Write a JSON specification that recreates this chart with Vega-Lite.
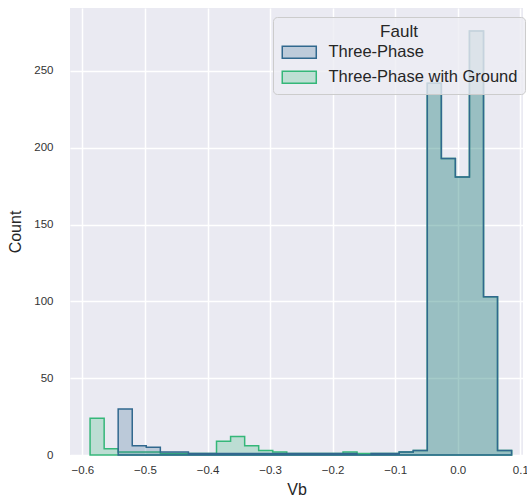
{
  "$schema": "https://vega.github.io/schema/vega-lite/v6.json",
  "width": 453,
  "height": 447,
  "autosize": {"type": "none"},
  "padding": {"left": 70, "top": 8, "right": 4, "bottom": 48},
  "background": "white",
  "config": {
    "font": "Liberation Sans",
    "view": {"fill": "#eaeaf2", "stroke": null},
    "axis": {
      "domain": false,
      "ticks": false,
      "grid": true,
      "gridColor": "#ffffff",
      "gridWidth": 1.5,
      "labelColor": "#333333",
      "labelFontSize": 11.5,
      "titleColor": "#262626",
      "titleFontSize": 16,
      "titleFontWeight": "normal"
    },
    "legend": {
      "orient": "none",
      "legendX": 203,
      "legendY": 9,
      "padding": 7,
      "cornerRadius": 4,
      "titleAnchor": "middle",
      "titleFontSize": 17,
      "titleFontWeight": "normal",
      "titleColor": "#262626",
      "titlePadding": 3,
      "labelFontSize": 16.5,
      "labelColor": "#262626",
      "labelOffset": 32,
      "labelLimit": 0,
      "rowPadding": 6,
      "symbolType": "M-1,-1H4.67V1H-1Z",
      "symbolSize": 144,
      "symbolStrokeWidth": 1.5
    }
  },
  "datasets": {
    "hist": [
      {"fault": "Three-Phase with Ground", "vb": -0.5877, "count": 24},
      {"fault": "Three-Phase with Ground", "vb": -0.5652, "count": 4},
      {"fault": "Three-Phase with Ground", "vb": -0.5428, "count": 2},
      {"fault": "Three-Phase with Ground", "vb": -0.5203, "count": 2},
      {"fault": "Three-Phase with Ground", "vb": -0.4979, "count": 2},
      {"fault": "Three-Phase with Ground", "vb": -0.4754, "count": 1},
      {"fault": "Three-Phase with Ground", "vb": -0.4529, "count": 1},
      {"fault": "Three-Phase with Ground", "vb": -0.4305, "count": 1},
      {"fault": "Three-Phase with Ground", "vb": -0.4080, "count": 1},
      {"fault": "Three-Phase with Ground", "vb": -0.3856, "count": 9},
      {"fault": "Three-Phase with Ground", "vb": -0.3631, "count": 12},
      {"fault": "Three-Phase with Ground", "vb": -0.3406, "count": 6},
      {"fault": "Three-Phase with Ground", "vb": -0.3182, "count": 3},
      {"fault": "Three-Phase with Ground", "vb": -0.2957, "count": 2},
      {"fault": "Three-Phase with Ground", "vb": -0.2733, "count": 1},
      {"fault": "Three-Phase with Ground", "vb": -0.2508, "count": 1},
      {"fault": "Three-Phase with Ground", "vb": -0.2283, "count": 1},
      {"fault": "Three-Phase with Ground", "vb": -0.2059, "count": 1},
      {"fault": "Three-Phase with Ground", "vb": -0.1834, "count": 2},
      {"fault": "Three-Phase with Ground", "vb": -0.1610, "count": 1},
      {"fault": "Three-Phase with Ground", "vb": -0.1385, "count": 1},
      {"fault": "Three-Phase with Ground", "vb": -0.1161, "count": 1},
      {"fault": "Three-Phase with Ground", "vb": -0.0936, "count": 2},
      {"fault": "Three-Phase with Ground", "vb": -0.0711, "count": 3},
      {"fault": "Three-Phase with Ground", "vb": -0.0487, "count": 242},
      {"fault": "Three-Phase with Ground", "vb": -0.0262, "count": 193},
      {"fault": "Three-Phase with Ground", "vb": -0.0038, "count": 181},
      {"fault": "Three-Phase with Ground", "vb": 0.0187, "count": 276},
      {"fault": "Three-Phase with Ground", "vb": 0.0412, "count": 103},
      {"fault": "Three-Phase with Ground", "vb": 0.0636, "count": 3},
      {"fault": "Three-Phase with Ground", "vb": 0.0861, "count": 3},
      {"fault": "Three-Phase", "vb": -0.5428, "count": 30},
      {"fault": "Three-Phase", "vb": -0.5203, "count": 6},
      {"fault": "Three-Phase", "vb": -0.4979, "count": 5},
      {"fault": "Three-Phase", "vb": -0.4754, "count": 2},
      {"fault": "Three-Phase", "vb": -0.4529, "count": 2},
      {"fault": "Three-Phase", "vb": -0.4305, "count": 1},
      {"fault": "Three-Phase", "vb": -0.4080, "count": 1},
      {"fault": "Three-Phase", "vb": -0.3856, "count": 1},
      {"fault": "Three-Phase", "vb": -0.3631, "count": 1},
      {"fault": "Three-Phase", "vb": -0.3406, "count": 1},
      {"fault": "Three-Phase", "vb": -0.3182, "count": 1},
      {"fault": "Three-Phase", "vb": -0.2957, "count": 1},
      {"fault": "Three-Phase", "vb": -0.2733, "count": 1},
      {"fault": "Three-Phase", "vb": -0.2508, "count": 1},
      {"fault": "Three-Phase", "vb": -0.2283, "count": 1},
      {"fault": "Three-Phase", "vb": -0.2059, "count": 1},
      {"fault": "Three-Phase", "vb": -0.1834, "count": 1},
      {"fault": "Three-Phase", "vb": -0.1610, "count": 0},
      {"fault": "Three-Phase", "vb": -0.1385, "count": 1},
      {"fault": "Three-Phase", "vb": -0.1161, "count": 1},
      {"fault": "Three-Phase", "vb": -0.0936, "count": 2},
      {"fault": "Three-Phase", "vb": -0.0711, "count": 3},
      {"fault": "Three-Phase", "vb": -0.0487, "count": 242},
      {"fault": "Three-Phase", "vb": -0.0262, "count": 193},
      {"fault": "Three-Phase", "vb": -0.0038, "count": 181},
      {"fault": "Three-Phase", "vb": 0.0187, "count": 276},
      {"fault": "Three-Phase", "vb": 0.0412, "count": 103},
      {"fault": "Three-Phase", "vb": 0.0636, "count": 3},
      {"fault": "Three-Phase", "vb": 0.0861, "count": 3}
    ]
  },
  "data": {"name": "hist"},
  "encoding": {
    "x": {
      "field": "vb",
      "type": "quantitative",
      "title": "Vb",
      "scale": {"domain": [-0.6198, 0.1043], "nice": false, "zero": false},
      "axis": {"values": [-0.6, -0.5, -0.4, -0.3, -0.2, -0.1, 0, 0.1], "format": ".1f", "labelPadding": 9, "titlePadding": 6}
    },
    "y": {
      "field": "count",
      "type": "quantitative",
      "title": "Count",
      "stack": null,
      "scale": {"domain": [0, 291], "nice": false},
      "axis": {"values": [0, 50, 100, 150, 200, 250], "labelPadding": 17, "titlePadding": 10}
    },
    "fill": {
      "field": "fault",
      "type": "nominal",
      "title": "Fault",
      "scale": {"domain": ["Three-Phase", "Three-Phase with Ground"], "range": ["rgba(49,104,142,0.25)", "rgba(53,183,121,0.25)"]},
      "legend": {"fillColor": "rgba(236,236,243,0.8)", "strokeColor": "#cccccc"}
    },
    "stroke": {
      "field": "fault",
      "type": "nominal",
      "title": "Fault",
      "scale": {"domain": ["Three-Phase", "Three-Phase with Ground"], "range": ["#31688e", "#35b779"]},
      "legend": {"fillColor": "rgba(236,236,243,0.8)", "strokeColor": "#cccccc"}
    }
  },
  "layer": [
    {
      "transform": [{"filter": "datum.fault === 'Three-Phase with Ground'"}],
      "mark": {"type": "area", "interpolate": "step-after", "strokeWidth": 1.5, "strokeOpacity": 1}
    },
    {
      "transform": [{"filter": "datum.fault === 'Three-Phase'"}],
      "mark": {"type": "area", "interpolate": "step-after", "strokeWidth": 1.5, "strokeOpacity": 1}
    }
  ]
}
